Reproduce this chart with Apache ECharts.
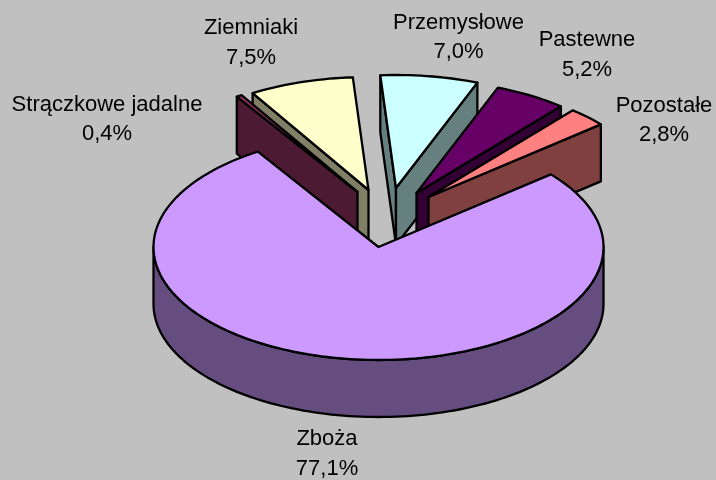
<!DOCTYPE html>
<html>
<head>
<meta charset="utf-8">
<style>html,body{margin:0;padding:0;background:#c0c0c0}#c{width:716px;height:480px}</style>
<script src="https://cdn.jsdelivr.net/npm/echarts@6/dist/echarts.min.js"></script>
</head>
<body>
<div id="c"></div>
<script>
const categories = ['Zboża', 'Strączkowe jadalne', 'Ziemniaki', 'Przemysłowe', 'Pastewne', 'Pozostałe'];
const shares = [77.1, 0.4, 7.5, 7.0, 5.2, 2.8];
const topColors = ['#CC99FF', '#993366', '#FFFFCC', '#CCFFFF', '#660066', '#FF8080'];
const sideColors = ['#664D80', '#4D1A33', '#808066', '#668080', '#330033', '#804040'];

const pieLayout = { cx: 378.5, cy: 247, rx: 225, ry: 113, depth: 57, startAngle: 50 };
const explodeOffsets = [[0, 0], [-21, -55], [-10, -57], [17.5, -59], [38, -54], [50, -50]];
const paintRank = [5, 1, 0, 2, 3, 4];
const labelCenters = [[327, 454], [107, 119.5], [251, 43], [458.5, 37.5], [587, 55], [664, 120.5]];
const labelFont = '22px "Liberation Sans", Arial, sans-serif';
const labelLineGap = 29.5;

const total = shares.reduce((s, v) => s + v, 0);
let running = pieLayout.startAngle;
const sliceAngles = shares.map(v => {
  const a = running;
  running += v / total * 360;
  return [a, running];
});

function pt(angle, ox, oy, dz) {
  const r = angle * Math.PI / 180;
  return [pieLayout.cx + ox + pieLayout.rx * Math.sin(r),
          pieLayout.cy + oy - pieLayout.ry * Math.cos(r) + (dz || 0)];
}
function arc(a, b, ox, oy, dz) {
  const out = [];
  const n = Math.max(2, Math.ceil((b - a) / 1.5));
  for (let i = 0; i <= n; i++) out.push(pt(a + (b - a) * i / n, ox, oy, dz));
  return out;
}
function poly(points, fill, z2) {
  return {
    type: 'polygon', z2: z2, silent: true,
    shape: { points: points },
    style: { fill: fill, stroke: '#000', lineWidth: 2.3, lineJoin: 'round' }
  };
}

function renderSlice(params, api) {
  const i = params.dataIndex;
  const value = api.value(0);
  const [a, b] = sliceAngles[i];
  const [ox, oy] = explodeOffsets[i];
  const d = pieLayout.depth;
  const apex = [pieLayout.cx + ox, pieLayout.cy + oy];
  const apexLow = [apex[0], apex[1] + d];
  const z = paintRank[i] * 10;
  const children = [];
  const na = a % 360, nb = b % 360;
  if (na > 180 && na < 360) {
    children.push(poly([apex, pt(a, ox, oy), pt(a, ox, oy, d), apexLow], sideColors[i], z));
  }
  if (nb > 0 && nb < 180) {
    children.push(poly([apex, pt(b, ox, oy), pt(b, ox, oy, d), apexLow], sideColors[i], z + 1));
  }
  const rimA = Math.max(a, 90), rimB = Math.min(b, 270);
  if (rimB > rimA) {
    children.push(poly(arc(rimA, rimB, ox, oy).concat(arc(rimA, rimB, ox, oy, d).reverse()), sideColors[i], z + 2));
  }
  children.push(poly([apex].concat(arc(a, b, ox, oy)), topColors[i], z + 3));
  const lines = categories[i] + '\n' + value.toFixed(1).replace('.', ',') + '%';
  children.push({
    type: 'text', z2: 200, silent: true,
    style: {
      x: labelCenters[i][0], y: labelCenters[i][1], text: lines,
      font: labelFont, fill: '#000', align: 'center', verticalAlign: 'middle',
      lineHeight: labelLineGap
    }
  });
  return { type: 'group', children: children };
}

const chart = echarts.init(document.getElementById('c'), null, { renderer: 'canvas' });
chart.setOption({
  backgroundColor: '#C0C0C0',
  animation: false,
  series: [{
    type: 'custom',
    coordinateSystem: 'none',
    renderItem: renderSlice,
    data: shares.map((v, i) => ({ name: categories[i], value: [v] }))
  }]
});
</script>
</body>
</html>
